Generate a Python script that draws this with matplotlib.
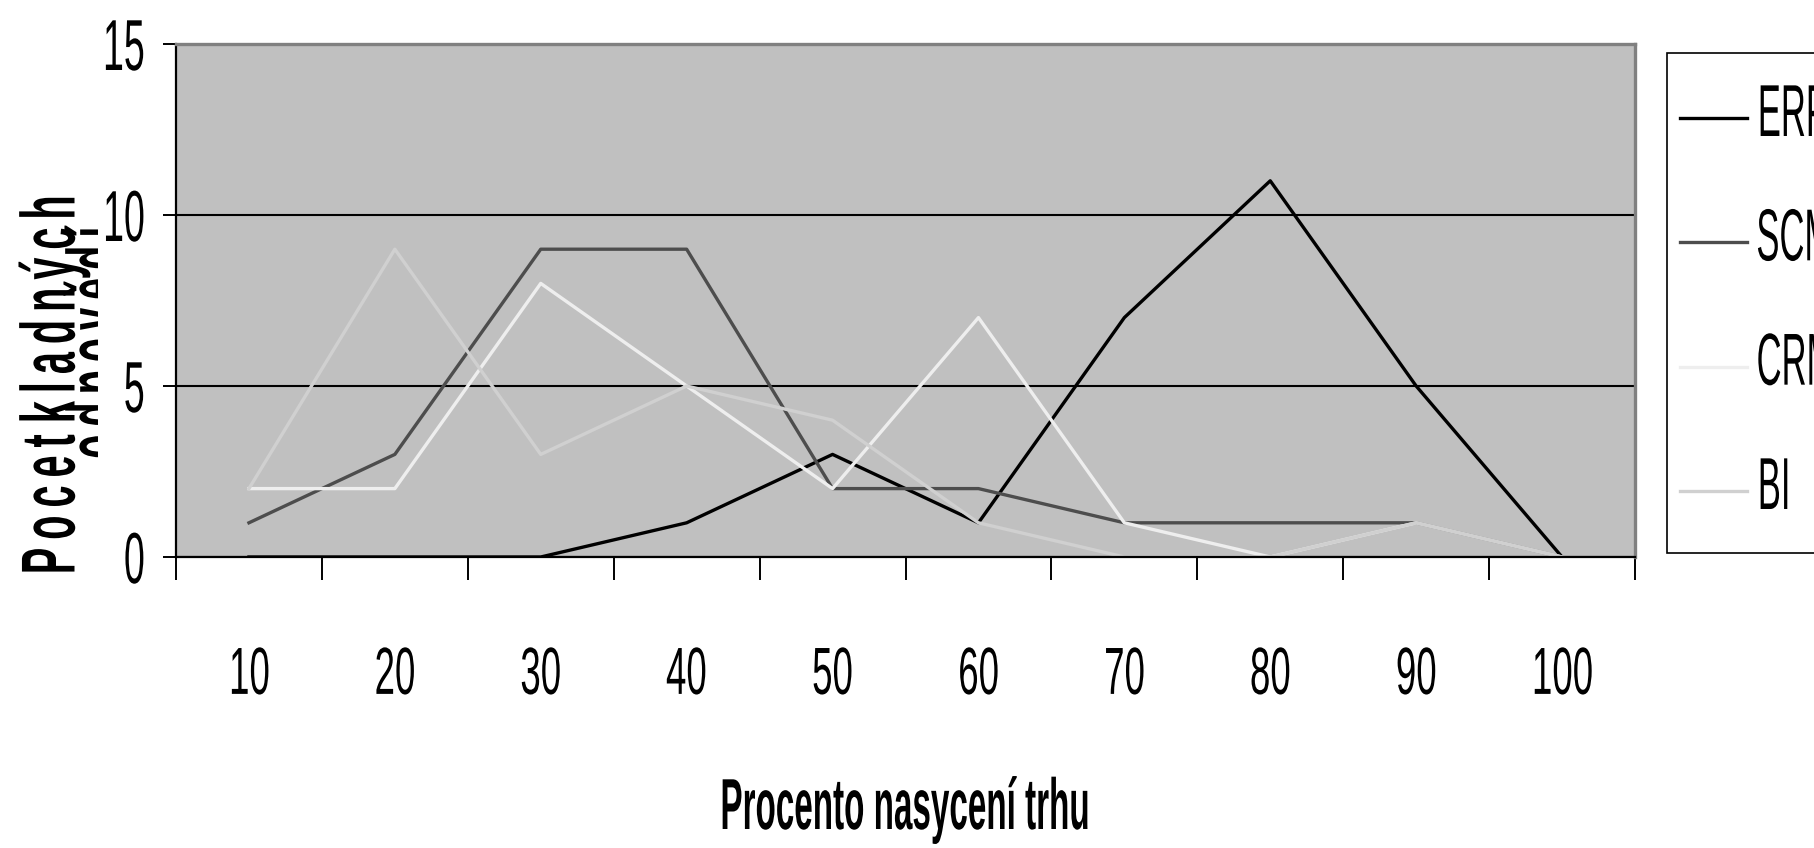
import numpy as np
import matplotlib
matplotlib.use('Agg')
import matplotlib.pyplot as plt
from matplotlib import patheffects
from matplotlib.transforms import Affine2D, Bbox, TransformedBbox

# data
saturation = [10, 20, 30, 40, 50, 60, 70, 80, 90, 100]
erp = [0, 0, 0, 1, 3, 1, 7, 11, 5, 0]
scm = [1, 3, 9, 9, 2, 2, 1, 1, 1, 0]
crm = [2, 2, 8, 5, 2, 7, 1, 0, 1, 0]
bi = [2, 9, 3, 5, 4, 1, 0, 0, 1, 0]
series_names = ['ERP', 'SCM', 'CRM', 'BI']
series_colors = ['#000000', '#4d4d4d', '#eeeeee', '#d0d0d0']
y_ticks = [0, 5, 10, 15]

plt.rcParams['font.family'] = ['Liberation Sans', 'DejaVu Sans']


class Reshape(patheffects.AbstractPathEffect):
    """Narrows glyphs sideways (condensed look of the original font) and
    optionally nudges the drawing up/down by dy points."""

    def __init__(self, sx=1.0, anchor='center', dy=0.0):
        super().__init__()
        self.sx = sx
        self.anchor = anchor
        self.dy = dy

    def draw_path(self, renderer, gc, tpath, affine, rgbFace=None):
        ext = tpath.get_extents()
        if self.anchor == 'left':
            cx = ext.x0
        elif self.anchor == 'right':
            cx = ext.x1
        else:
            cx = (ext.x0 + ext.x1) / 2
        squeeze = Affine2D().translate(-cx, 0).scale(self.sx, 1).translate(cx, 0)
        shift = Affine2D().translate(0, renderer.points_to_pixels(self.dy))
        renderer.draw_path(gc, tpath, squeeze + affine + shift, rgbFace)


def spaced(word):
    # letter-spaced text, as Excel drew the axis title
    return '\u2009'.join(word)


W, H = 1814, 848
fig = plt.figure(figsize=(W / 100, H / 100), dpi=100)
ax = fig.add_axes([176 / W, 1 - 557 / H, 1459 / W, 513 / H])
ax.set_facecolor('#c0c0c0')

x = np.arange(1, len(saturation) + 1)
for vals, name, col in zip([erp, scm, crm, bi], series_names, series_colors):
    ax.plot(x, vals, color=col, lw=2.4, label=name)

ax.set_xlim(0.5, len(saturation) + 0.5)
ax.set_ylim(0, 15)

# ticks between categories, labels in the middle
ax.set_xticks(np.arange(0.5, len(saturation) + 1), labels=[])
ax.set_xticks(x, labels=[str(v) for v in saturation], minor=True)
ax.tick_params(axis='x', which='major', direction='out', length=16.5, width=1.4, color='black')
ax.tick_params(axis='x', which='minor', length=0, pad=64, labelsize=48)
ax.set_yticks(y_ticks)
ax.tick_params(axis='y', direction='out', length=9.4, width=1.4, pad=12, labelsize=52)

ax.yaxis.grid(True, color='black', lw=1.5)
ax.set_axisbelow(True)

for side in ('left', 'bottom'):
    ax.spines[side].set_color('black')
    ax.spines[side].set_linewidth(1.6)
for side in ('top', 'right'):
    ax.spines[side].set_color('#808080')
    ax.spines[side].set_linewidth(2.4)

for lbl in ax.get_xticklabels(minor=True):
    lbl.set_path_effects([Reshape(0.55, 'center')])
for lbl in ax.get_yticklabels():
    lbl.set_path_effects([Reshape(0.52, 'right')])

ax.set_xlabel('Procento nasycení trhu', fontsize=52, fontweight='bold', va='center')
ax.xaxis.set_label_coords(0.5, (557 - 810) / 513)
ax.xaxis.label.set_path_effects([Reshape(0.46)])

# y label: two lines, the second one partly cut off as in the original
fig.text(19 / W, 1 - 385 / H, spaced('Pocet') + ' ' + spaced('kladných'), rotation=90,
         ha='left', va='center', fontsize=55, fontweight='bold',
         path_effects=[Reshape(0.52)])
line2 = fig.text(64 / W, 1 - 344 / H, spaced('odpovědí'), rotation=90,
                 ha='left', va='center', fontsize=55, fontweight='bold',
                 path_effects=[Reshape(0.52)])
line2.set_clip_box(TransformedBbox(Bbox.from_extents(0, 0, 98 / W, 1), fig.transFigure))
line2.set_clip_on(True)

leg = fig.legend(loc='upper left', bbox_to_anchor=(1667 / W, 1 - 53 / H),
                 fontsize=53, frameon=True, fancybox=False, edgecolor='black',
                 framealpha=1, borderpad=0.17, handlelength=0.92, handleheight=1.76,
                 handletextpad=0.1, labelspacing=0.3, borderaxespad=0)
leg.get_frame().set_linewidth(1.2)
for t in leg.get_texts():
    t.set_path_effects([Reshape(0.47, 'left', dy=3.2)])
for h in leg.legend_handles:
    h.set_path_effects([Reshape(dy=-10.8)])

fig.savefig('out.png', dpi=100)
